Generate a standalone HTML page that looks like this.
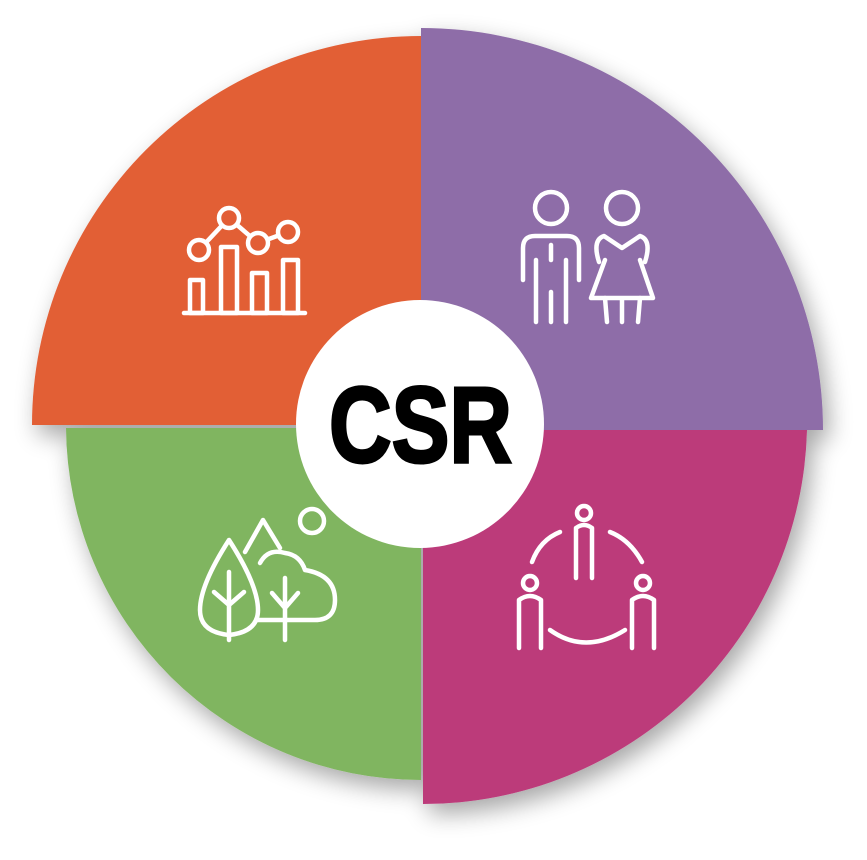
<!DOCTYPE html>
<html><head><meta charset="utf-8"><style>html,body{margin:0;padding:0;background:#fff;}svg{display:block}</style></head>
<body>
<svg width="867" height="860" viewBox="0 0 867 860" xmlns="http://www.w3.org/2000/svg">
<defs>
<filter id="sh" x="-20%" y="-20%" width="140%" height="140%">
<feGaussianBlur in="SourceAlpha" stdDeviation="12"/>
<feOffset dx="6" dy="10"/>
<feComponentTransfer><feFuncA type="linear" slope="0.35"/></feComponentTransfer>
<feMerge><feMergeNode/><feMergeNode in="SourceGraphic"/></feMerge>
</filter>
</defs>
<g filter="url(#sh)">
<path d="M421,425 L32,425 A389,389 0 0 1 421,36 Z" fill="#E25E36"/>
<path d="M421,430 L421,28 A402,402 0 0 1 823,430 Z" fill="#8E6DA8"/>
<path d="M423,430 L807,430 A384,384 0 0 1 423,804 Z" fill="#BC3A7A"/>
<path d="M421,428 L421,780 A355,355 0 0 1 66,428 Z" fill="#80B560"/>
</g>
<circle cx="420" cy="424" r="124" fill="#fff"/>
<text x="329" y="462" font-family="Liberation Sans, sans-serif" font-weight="bold" font-size="108" textLength="183" lengthAdjust="spacingAndGlyphs" fill="#000" stroke="#000" stroke-width="3">CSR</text>
<g fill="none" stroke="#fff" stroke-width="4.5" stroke-linecap="round" stroke-linejoin="round">
<!-- chart -->
<line x1="184" y1="313" x2="305" y2="313"/>
<rect x="190" y="280" width="13" height="33"/>
<rect x="221" y="247" width="16" height="66"/>
<rect x="252" y="273" width="15" height="40"/>
<rect x="283" y="260" width="15" height="53"/>
<polyline points="199,250 229,218 258,243 288,232"/>
<circle cx="199" cy="250" r="10" fill="#E25E36"/>
<circle cx="229" cy="218" r="10" fill="#E25E36"/>
<circle cx="258" cy="243" r="10" fill="#E25E36"/>
<circle cx="288" cy="232" r="10" fill="#E25E36"/>
<!-- people -->
<circle cx="551" cy="208" r="16"/>
<circle cx="622" cy="208" r="16"/>
<path d="M523,280 L523,248 Q523,236 535,236 L567,236 Q579,236 579,248 L579,280"/>
<path d="M536,260 L536,322 M551,292 L551,322 M566,260 L566,322"/>
<path d="M551,245 L551,260"/>
<path d="M599,262 Q592,240 604,236 L622,248 L640,236 Q652,240 645,262"/>
<path d="M605,260 L591,298 L653,298 L640,260"/>
<path d="M605,298 L607,322 M622,300 L622,322 M640,298 L638,322"/>
<!-- trees -->
<path d="M229,540 Q200,585 200,610 Q200,632 229,635 Q258,632 258,610 Q258,585 229,540 Z"/>
<path d="M229,572 L229,640 M214,592 L229,605 M244,592 L229,605"/>
<path d="M245,552 L263,520 L280,548"/>
<circle cx="312" cy="521" r="12"/>
<path d="M260,563 Q268,548 285,553 Q300,555 305,570 Q335,575 335,600 Q335,620 315,620 L258,620"/>
<path d="M285,578 L285,640 M272,593 L285,608 M298,593 L285,608"/>
<!-- network -->
<circle cx="584" cy="513" r="7"/>
<path d="M576,528 L576,578 M592,528 L592,578 M576,528 Q584,522 592,528"/>
<circle cx="530" cy="583" r="7"/>
<path d="M519,600 L519,648 M541,600 L541,648 M519,600 Q530,592 541,600"/>
<circle cx="643" cy="583" r="7"/>
<path d="M632,600 L632,648 M654,600 L654,648 M632,600 Q643,592 654,600"/>
<path d="M532,562 Q540,540 560,532"/>
<path d="M610,532 Q630,540 642,562"/>
<path d="M550,630 Q585,655 625,630"/>
</g>
</svg>
</body></html>
